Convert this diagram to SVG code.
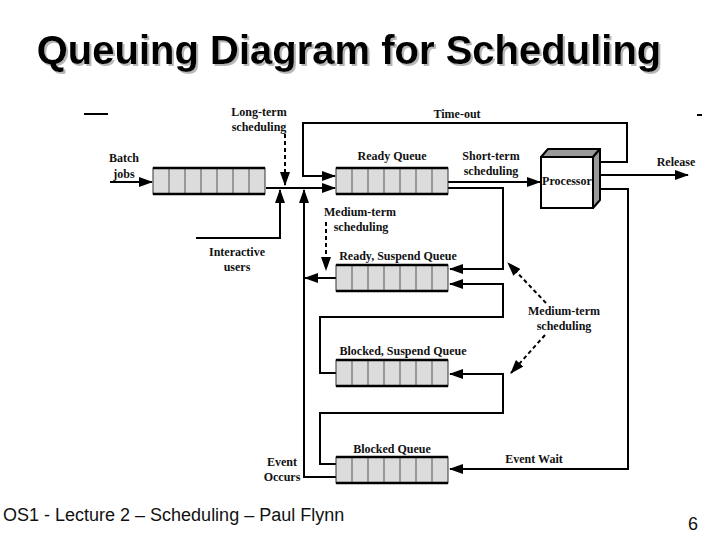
<svg xmlns="http://www.w3.org/2000/svg" width="720" height="540" viewBox="0 0 720 540">
<style>
.t{font-family:"Liberation Serif","Times New Roman",serif;font-weight:bold;font-size:12px;fill:#111;text-anchor:middle}
.c{fill:none;stroke:#000;stroke-width:2}
.d{fill:none;stroke:#000;stroke-width:2;stroke-dasharray:4,3}
.qb{fill:#dcdcdc;stroke:#333;stroke-width:1}
.qe{stroke:#000;stroke-width:2.5}
.qc{stroke:#555;stroke-width:1}
</style>
<defs>
<marker id="ah" markerWidth="14" markerHeight="10" refX="13" refY="5" orient="auto" markerUnits="userSpaceOnUse">
<path d="M0,0 L14,5 L0,10 Z" fill="#000"/>
</marker>
<filter id="sh" x="-5%" y="-20%" width="110%" height="140%">
<feDropShadow dx="2" dy="2" stdDeviation="0.5" flood-color="#999" flood-opacity="0.7"/>
</filter>
<g id="queue">
<rect class="qb" x="0" y="0" width="112" height="26"/>
<line class="qc" x1="16" y1="0" x2="16" y2="26"/><line class="qc" x1="32" y1="0" x2="32" y2="26"/>
<line class="qc" x1="48" y1="0" x2="48" y2="26"/><line class="qc" x1="64" y1="0" x2="64" y2="26"/>
<line class="qc" x1="80" y1="0" x2="80" y2="26"/><line class="qc" x1="96" y1="0" x2="96" y2="26"/>
<line class="qe" x1="0" y1="0" x2="112" y2="0"/><line class="qe" x1="0" y1="26" x2="112" y2="26"/>
</g>
</defs>
<rect width="720" height="540" fill="#fff"/>
<text x="349" y="64" font-family="Liberation Sans,Arial,sans-serif" font-weight="bold" font-size="40" fill="#000" text-anchor="middle" filter="url(#sh)">Queuing Diagram for Scheduling</text>
<line x1="84" y1="114" x2="108" y2="114" stroke="#000" stroke-width="2"/>
<line x1="697" y1="115" x2="702" y2="115" stroke="#000" stroke-width="2"/>

<g id="connectors">
<line class="c" x1="110" y1="182" x2="152" y2="182" marker-end="url(#ah)"/>
<line class="c" x1="266" y1="188" x2="335" y2="188" marker-end="url(#ah)"/>
<line class="d" x1="285" y1="134" x2="285" y2="185" marker-end="url(#ah)"/>
<polyline class="c" points="196,238 280,238 280,190" marker-end="url(#ah)"/>
<polyline class="c" points="597,162 627,162 627,123 303,123 303,176 335,176" marker-end="url(#ah)"/>
<line class="c" x1="448" y1="182" x2="540" y2="182" marker-end="url(#ah)"/>
<line class="c" x1="597" y1="175" x2="688" y2="175" marker-end="url(#ah)"/>
<polyline class="c" points="597,189 628,189 628,469 450,469" marker-end="url(#ah)"/>
<polyline class="c" points="448,188 503,188 503,269 450,269" marker-end="url(#ah)"/>
<line class="c" x1="336" y1="278" x2="305" y2="278" marker-end="url(#ah)"/>
<polyline class="c" points="336,477 304,477 304,190" marker-end="url(#ah)"/>
<polyline class="c" points="336,373 320,373 320,317 503,317 503,284 450,284" marker-end="url(#ah)"/>
<polyline class="c" points="336,464 320,464 320,413 503,413 503,374 450,374" marker-end="url(#ah)"/>
<line class="d" x1="326" y1="222" x2="326" y2="270" marker-end="url(#ah)"/>
<line class="d" x1="546" y1="303" x2="508" y2="263" marker-end="url(#ah)"/>
<line class="d" x1="545" y1="335" x2="511" y2="373" marker-end="url(#ah)"/>
</g>

<g id="batch-queue"><use href="#queue" x="153" y="168"/></g>
<g id="ready-queue"><use href="#queue" x="336" y="168"/><text class="t" x="392" y="160">Ready Queue</text></g>
<g id="ready-suspend-queue"><use href="#queue" x="336" y="265"/><text class="t" x="398" y="260">Ready, Suspend Queue</text></g>
<g id="blocked-suspend-queue"><use href="#queue" x="336" y="360"/><text class="t" x="403" y="355">Blocked, Suspend Queue</text></g>
<g id="blocked-queue"><use href="#queue" x="336" y="457"/><text class="t" x="392" y="453">Blocked Queue</text></g>

<g id="processor">
<polygon points="541,157 548,149 600,149 593,157" fill="#999" stroke="#000" stroke-width="2" stroke-linejoin="round"/>
<polygon points="593,157 600,149 600,200 593,208" fill="#999" stroke="#000" stroke-width="2" stroke-linejoin="round"/>
<rect x="541" y="157" width="52" height="51" fill="#fff" stroke="#000" stroke-width="2"/>
<text class="t" x="567" y="185" font-size="9.5">Processor</text>
</g>

<g id="labels">
<text class="t" x="124" y="162">Batch</text>
<text class="t" x="124" y="178">jobs</text>
<text class="t" x="259" y="116">Long-term</text>
<text class="t" x="259" y="131">scheduling</text>
<text class="t" x="457" y="118">Time-out</text>
<text class="t" x="491" y="160">Short-term</text>
<text class="t" x="491" y="175">scheduling</text>
<text class="t" x="676" y="166">Release</text>
<text class="t" x="360" y="216">Medium-term</text>
<text class="t" x="361" y="231">scheduling</text>
<text class="t" x="237" y="256">Interactive</text>
<text class="t" x="237" y="271">users</text>
<text class="t" x="564" y="315">Medium-term</text>
<text class="t" x="564" y="330">scheduling</text>
<text class="t" x="534" y="463">Event Wait</text>
<text class="t" x="282" y="466">Event</text>
<text class="t" x="282" y="481">Occurs</text>
</g>

<text x="3" y="521" font-family="Liberation Sans,Arial,sans-serif" font-size="18" fill="#111">OS1 - Lecture 2 – Scheduling – Paul Flynn</text>
<text x="688" y="530" font-family="Liberation Sans,Arial,sans-serif" font-size="18" fill="#111">6</text>
</svg>
